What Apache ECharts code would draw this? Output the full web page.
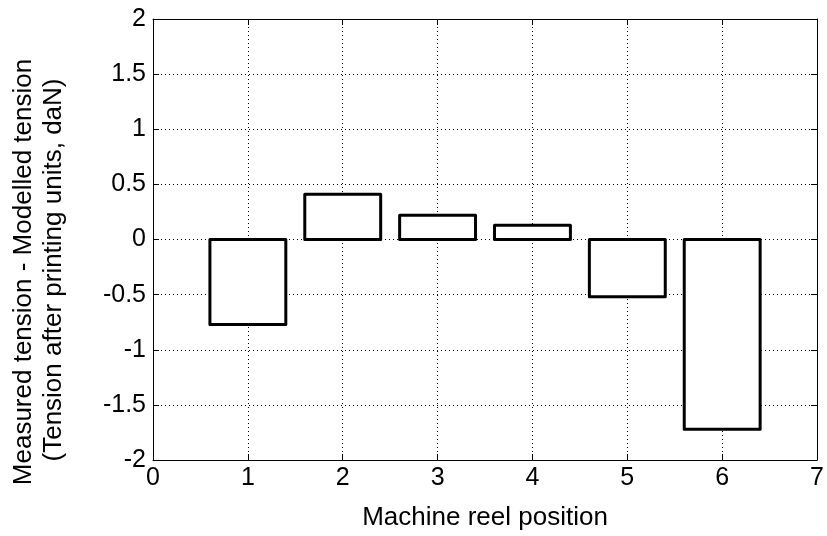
<!DOCTYPE html>
<html><head><meta charset="utf-8">
<script src="https://cdn.jsdelivr.net/npm/echarts@6/dist/echarts.min.js"></script>
<style>html,body{margin:0;padding:0;background:#fff}#c{width:827px;height:536px}</style>
</head><body><div id="c"></div>
<script>
var positions = [1, 2, 3, 4, 5, 6];
var values = [-0.77, 0.41, 0.22, 0.13, -0.52, -1.72];
var xTicks = [0, 1, 2, 3, 4, 5, 6, 7];
var yTicks = [-2, -1.5, -1, -0.5, 0, 0.5, 1, 1.5, 2];
var xTitle = 'Machine reel position';
var yTitleLines = ['Measured tension - Modelled tension', '(Tension after printing units, daN)'];
var barHalfWidth = 0.4;

var font = 'Liberation Sans, Arial, sans-serif';
var chart = echarts.init(document.getElementById('c'), null, {renderer: 'canvas'});
var data = positions.map(function (p, i) { return [p, values[i]]; });

function axisCommon(extra) {
  return Object.assign({
    axisLine: {show: true, onZero: false, lineStyle: {color: '#000', width: 1}},
    axisTick: {show: true, inside: true, length: 6, lineStyle: {color: '#000'}},
    splitLine: {show: false}
  }, extra);
}

chart.setOption({
  animation: false,
  backgroundColor: '#fff',
  grid: {left: 153, right: 5, top: 19, bottom: 75, containLabel: false},
  graphic: [
    {type: 'text', x: 24, y: 272, rotation: Math.PI / 2,
      style: {text: yTitleLines[0], fontFamily: font, fontSize: 26, fill: '#000',
        align: 'center', verticalAlign: 'middle'}},
    {type: 'text', x: 54, y: 270, rotation: Math.PI / 2,
      style: {text: yTitleLines[1], fontFamily: font, fontSize: 26, fill: '#000',
        align: 'center', verticalAlign: 'middle'}}
  ],
  xAxis: [
    axisCommon({
      type: 'value', min: 0, max: 7, interval: 1, position: 'bottom',
      name: xTitle, nameLocation: 'middle', nameGap: 45,
      nameTextStyle: {fontFamily: font, fontSize: 26, color: '#000'},
      axisLabel: {fontFamily: font, fontSize: 25, color: '#000', margin: 6,
        formatter: function (v) { return xTicks.indexOf(v) >= 0 ? String(v) : ''; }},
      splitLine: {show: true, lineStyle: {color: '#000', type: [1, 3], width: 1}}
    }),
    axisCommon({type: 'value', min: 0, max: 7, interval: 1, position: 'top',
      axisLabel: {show: false}})
  ],
  yAxis: [
    axisCommon({
      type: 'value', min: -2, max: 2, interval: 0.5, position: 'left',
      axisLabel: {fontFamily: font, fontSize: 25, color: '#000', margin: 7,
        formatter: function (v) { return yTicks.indexOf(v) >= 0 ? String(v) : ''; }},
      splitLine: {show: true, lineStyle: {color: '#000', type: [1, 3], width: 1}}
    }),
    axisCommon({type: 'value', min: -2, max: 2, interval: 0.5, position: 'right',
      axisLabel: {show: false}})
  ],
  series: [{
    type: 'custom',
    xAxisIndex: 0, yAxisIndex: 0,
    data: data,
    renderItem: function (params, api) {
      var x = api.value(0), y = api.value(1);
      var p1 = api.coord([x - barHalfWidth, Math.max(0, y)]);
      var p2 = api.coord([x + barHalfWidth, Math.min(0, y)]);
      return {
        type: 'rect',
        shape: {x: p1[0], y: p1[1], width: p2[0] - p1[0], height: p2[1] - p1[1]},
        style: {fill: '#fff', stroke: '#000', lineWidth: 3, lineJoin: 'round'}
      };
    },
    z: 5
  }]
});
</script></body></html>
